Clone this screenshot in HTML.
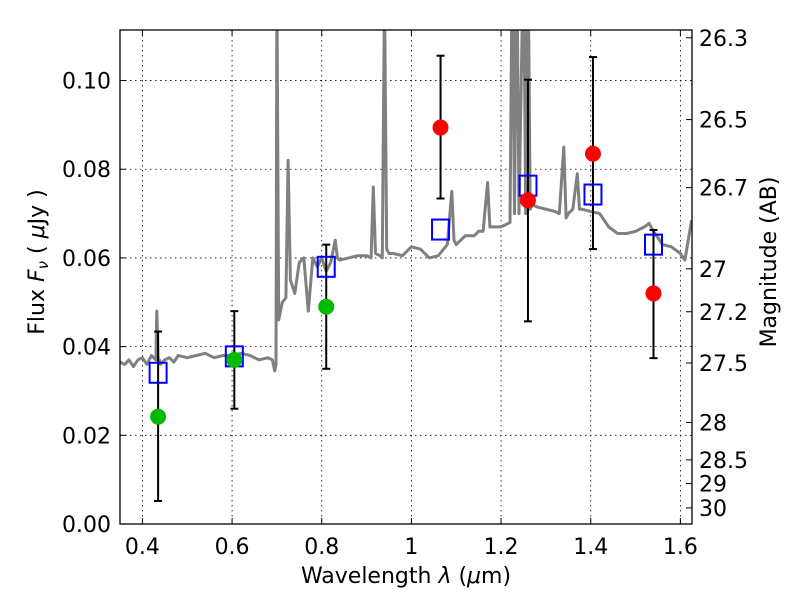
<!DOCTYPE html>
<html><head><meta charset="utf-8"><style>
body{margin:0;background:#fff;font-family:"Liberation Sans","DejaVu Sans",sans-serif}
svg text{font-family:"DejaVu Sans","Liberation Sans",sans-serif;font-size:22px;fill:#000}
</style></head><body>
<svg id="chart" width="800" height="600" xmlns="http://www.w3.org/2000/svg">
<rect width="800" height="600" fill="#fff"/>
<g id="grid"></g>
<g id="spec"></g>
<g id="marks"></g>
<g id="axes"></g>
</svg>
<script>
const xTicks=[0.4,0.6,0.8,1.0,1.2,1.4,1.6];
const xTickLabels=["0.4","0.6","0.8","1","1.2","1.4","1.6"];
const yTicks=[0,0.02,0.04,0.06,0.08,0.10];
const yTickLabels=["0.00","0.02","0.04","0.06","0.08","0.10"];
const magTicks=[26.3,26.5,26.7,27,27.2,27.5,28,28.5,29,30];
const magLabels=["26.3","26.5","26.7","27","27.2","27.5","28","28.5","29","30"];
const bandWave=[0.435,0.605,0.81,1.065,1.26,1.405,1.54];
const modelFlux=[0.0341,0.0378,0.058,0.0664,0.0763,0.0743,0.0630];
const obsFlux=[0.0242,0.037,0.049,0.0894,0.073,0.0835,0.052];
const errLow=[0.0052,0.026,0.035,0.0734,0.0457,0.0620,0.0374];
const errHigh=[0.0434,0.048,0.063,0.1056,0.1002,0.1053,0.0663];
const obsColor=["#00bb00","#00bb00","#00bb00","#ff0000","#ff0000","#ff0000","#ff0000"];
const specWave=[0.35,0.36,0.37,0.38,0.39,0.40,0.41,0.42,0.43,0.432,0.435,0.438,0.44,0.45,0.46,0.47,0.48,0.50,0.52,0.54,0.56,0.58,0.60,0.62,0.64,0.66,0.68,0.69,0.695,0.698,0.700,0.704,0.708,0.712,0.72,0.725,0.73,0.74,0.75,0.76,0.77,0.78,0.79,0.80,0.81,0.82,0.83,0.835,0.84,0.86,0.88,0.90,0.91,0.915,0.92,0.93,0.935,0.94,0.945,0.95,0.96,0.98,1.00,1.02,1.04,1.06,1.08,1.09,1.095,1.10,1.12,1.14,1.15,1.16,1.17,1.175,1.18,1.20,1.22,1.225,1.23,1.235,1.24,1.25,1.255,1.26,1.265,1.27,1.28,1.30,1.32,1.33,1.34,1.345,1.35,1.36,1.37,1.375,1.38,1.40,1.42,1.44,1.46,1.48,1.50,1.52,1.53,1.54,1.56,1.58,1.60,1.61,1.625];
const specFlux=[0.0365,0.036,0.037,0.0355,0.037,0.0375,0.036,0.038,0.037,0.048,0.037,0.037,0.036,0.037,0.0375,0.0365,0.038,0.0375,0.038,0.0385,0.0375,0.038,0.038,0.0385,0.038,0.037,0.0375,0.037,0.0345,0.036,0.12,0.046,0.048,0.05,0.051,0.082,0.055,0.052,0.059,0.06,0.048,0.06,0.058,0.06,0.057,0.059,0.064,0.06,0.0595,0.06,0.0605,0.0605,0.06,0.076,0.061,0.0605,0.06,0.12,0.062,0.061,0.061,0.0605,0.0625,0.062,0.06,0.0605,0.063,0.075,0.064,0.063,0.065,0.065,0.066,0.066,0.077,0.067,0.067,0.067,0.068,0.13,0.07,0.13,0.07,0.13,0.07,0.13,0.071,0.072,0.0715,0.071,0.0705,0.07,0.085,0.069,0.07,0.071,0.079,0.071,0.071,0.0705,0.070,0.067,0.0655,0.0655,0.066,0.067,0.0678,0.066,0.063,0.0625,0.061,0.0595,0.0685];
const NS="http://www.w3.org/2000/svg";
const L=120,R=692,T=30,B=524;
const x0=0.35,x1=1.6259,y0=0,y1=0.1114;
const sx=v=>L+(v-x0)/(x1-x0)*(R-L);
const sy=v=>B-(v-y0)/(y1-y0)*(B-T);
const magToFlux=m=>Math.pow(10,(23.9-m)/2.5);
function el(p,t,a){const e=document.createElementNS(NS,t);for(const k in a)e.setAttribute(k,a[k]);p.appendChild(e);return e;}
const grid=document.getElementById('grid'),axes=document.getElementById('axes'),spec=document.getElementById('spec'),marks=document.getElementById('marks');
xTicks.forEach((v,i)=>{
 const g=el(grid,'line',{x1:sx(v),x2:sx(v),y1:T,y2:B,stroke:'#000','stroke-width':0.8,'stroke-dasharray':'1.5,3.5'});
 
 el(axes,'line',{x1:sx(v),x2:sx(v),y1:B,y2:B-6,stroke:'#000'});
 el(axes,'line',{x1:sx(v),x2:sx(v),y1:T,y2:T+6,stroke:'#000'});
 const t=el(axes,'text',{x:sx(v),y:B+30,'text-anchor':'middle'});t.textContent=xTickLabels[i];
 
});
yTicks.forEach((v,i)=>{
 if(v>0){const g=el(grid,'line',{x1:L,x2:R,y1:sy(v),y2:sy(v),stroke:'#000','stroke-width':0.8,'stroke-dasharray':'1.5,3.5'});
 }
 el(axes,'line',{x1:L,x2:L+6,y1:sy(v),y2:sy(v),stroke:'#000'});
 const t=el(axes,'text',{x:L-9,y:sy(v)+8,'text-anchor':'end'});t.textContent=yTickLabels[i];
 
});
magTicks.forEach((m,i)=>{
 const y=sy(magToFlux(m));
 el(axes,'line',{x1:R,x2:R-6,y1:y,y2:y,stroke:'#000'});
 const t=el(axes,'text',{x:R+7,y:y+8,'text-anchor':'start'});t.textContent=magLabels[i];
 
});
let d='';specWave.forEach((w,i)=>{d+=(i?'L':'M')+sx(w).toFixed(1)+','+sy(specFlux[i]).toFixed(1);});
el(spec,'clipPath',{id:'clip'});el(document.getElementById('clip'),'rect',{x:L,y:T,width:R-L,height:B-T});
const sp=el(spec,'path',{d:d,fill:'none',stroke:'#808080','stroke-width':3,'stroke-linejoin':'round','clip-path':'url(#clip)'});

bandWave.forEach((w,i)=>{
 const x=sx(w);
 const e=el(marks,'g',{});
 el(e,'line',{x1:x,x2:x,y1:sy(errLow[i]),y2:sy(errHigh[i]),stroke:'#000','stroke-width':2});
 el(e,'line',{x1:x-4,x2:x+4,y1:sy(errLow[i]),y2:sy(errLow[i]),stroke:'#000','stroke-width':2});
 el(e,'line',{x1:x-4,x2:x+4,y1:sy(errHigh[i]),y2:sy(errHigh[i]),stroke:'#000','stroke-width':2});
 const s=el(marks,'rect',{x:x-8.5,y:sy(modelFlux[i])-10,width:17,height:20,fill:'none',stroke:'#0000ff','stroke-width':2});
 
 const c=el(marks,'circle',{cx:x,cy:sy(obsFlux[i]),r:8,fill:obsColor[i]});
 
});
const fr=el(axes,'rect',{x:L,y:T,width:R-L,height:B-T,fill:'none',stroke:'#000','stroke-width':1.3});

const xt=el(axes,'text',{x:406,y:583,'text-anchor':'middle','xml:space':'preserve'});xt.innerHTML='Wavelength  <tspan font-style="italic">λ</tspan> (<tspan font-style="italic">μ</tspan>m)';

const yt=el(axes,'text',{x:0,y:0,'text-anchor':'middle','xml:space':'preserve',transform:'translate(44,262) rotate(-90)'});yt.innerHTML='Flux  <tspan font-style="italic">F</tspan><tspan font-style="italic" font-size="15" dy="4">ν</tspan><tspan dy="-4">  (  <tspan font-style="italic">μ</tspan>Jy )</tspan>';

const rt=el(axes,'text',{x:0,y:0,'text-anchor':'middle',transform:'translate(776,262) rotate(-90)'});rt.textContent='Magnitude (AB)';

</script>
</body></html>
